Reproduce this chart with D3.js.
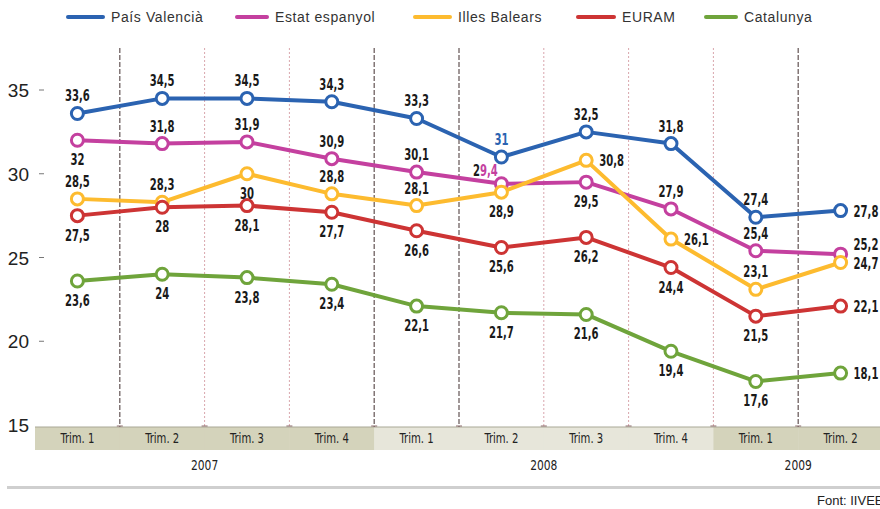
<!DOCTYPE html>
<html><head><meta charset="utf-8">
<script src="https://cdn.jsdelivr.net/npm/d3@7"></script>
<style>
html,body{margin:0;padding:0;background:#fff;}
svg{display:block;}
</style></head>
<body>
<svg id="chart" width="880" height="509"></svg>
<script>
// ---- data ----
const quarters = ["Trim. 1","Trim. 2","Trim. 3","Trim. 4","Trim. 1","Trim. 2","Trim. 3","Trim. 4","Trim. 1","Trim. 2"];
const years = ["2007","2008","2009"];
const yearOfQuarter = [0,0,0,0,1,1,1,1,2,2];
const seriesNames = ["País Valencià","Estat espanyol","Illes Balears","EURAM","Catalunya"];
const paisValencia = [33.6,34.5,34.5,34.3,33.3,31,32.5,31.8,27.4,27.8];
const estatEspanyol = [32,31.8,31.9,30.9,30.1,29.4,29.5,27.9,25.4,25.2];
const illesBalears = [28.5,28.3,30,28.8,28.1,28.9,30.8,26.1,23.1,24.7];
const euram = [27.5,28,28.1,27.7,26.6,25.6,26.2,24.4,21.5,22.1];
const catalunya = [23.6,24,23.8,23.4,22.1,21.7,21.6,19.4,17.6,18.1];
const yTicks = [15,20,25,30,35];
const source = "Font: IIVEE";

// label placement (a = above, b = below, r = right, ar = above-right, al = above-left)
const placePV = ["a","a","a","a","a","a","a","a","a","r"];
const placeEE = ["b","a","a","a","a","al","b","a","a","ar"];
const placeIB = ["a","a","b","a","a","b","r","r","a","r"];
const placeEU = ["b","b","b","b","b","b","b","b","b","r"];
const placeCA = ["b","b","b","b","b","b","b","b","b","r"];

const colors = ["#2b63b1","#c4409f","#fdbb2f","#cd3434","#6fa43b"];
const series = [paisValencia, estatEspanyol, illesBalears, euram, catalunya];
const places = [placePV, placeEE, placeIB, placeEU, placeCA];

const svg = d3.select("#chart");
const x = d3.scaleBand().domain(d3.range(quarters.length)).range([35, 883]).padding(0);
const y = d3.scaleLinear().domain([15,35]).range([425,90]);
const cx = i => x(i) + x.bandwidth()/2;
const condensed = "'Liberation Sans Narrow','DejaVu Sans Condensed',sans-serif";
const squeeze = (sel, tx, s) => sel.attr("transform", `translate(${tx},0) scale(${s},1) translate(${-tx},0)`);

// bands
const bandTop = 427, bandH = 23;
const bandColors = ["#d4d3bb","#e7e6da","#d4d3bb"];
svg.append("g").selectAll("rect").data(quarters).join("rect")
  .attr("x", (d,i)=>x(i)).attr("y", bandTop).attr("width", x.bandwidth()+0.5).attr("height", bandH)
  .attr("fill", (d,i)=>bandColors[yearOfQuarter[i]]);
svg.append("line").attr("x1",35).attr("x2",880).attr("y1",bandTop).attr("y2",bandTop)
  .attr("stroke","#a9a896").attr("stroke-width",1);
quarters.forEach((q,i)=>{
  const t = svg.append("text").attr("x",cx(i)).attr("y", bandTop+16).attr("text-anchor","middle")
    .attr("font-family",condensed).attr("font-size",14).attr("fill","#222").text(q);
  squeeze(t, cx(i), 0.8);
});

// year labels: centred on the middle of each year's quarters
years.forEach((yr,k)=>{
  const idx = d3.range(quarters.length).filter(i=>yearOfQuarter[i]===k);
  let xc;
  if (idx.length===2) xc = x(idx[1]);
  else xc = (x(idx[0]) + x(idx[idx.length-1]) + x.bandwidth())/2;
  const t = svg.append("text").attr("x", xc).attr("y", 470).attr("text-anchor","middle")
    .attr("font-family",condensed).attr("font-size",14).attr("fill","#222").text(yr);
  squeeze(t, xc, 0.85);
});

// vertical separators
const darkSep = [1,4,5,9];
svg.append("g").selectAll("line").data(d3.range(1,quarters.length)).join("line")
  .attr("x1",i=>x(i)).attr("x2",i=>x(i)).attr("y1",48).attr("y2",bandTop)
  .attr("stroke",i=>darkSep.includes(i)?"#6e6060":"#d9a6ad")
  .attr("stroke-width",i=>darkSep.includes(i)?1.3:1)
  .attr("stroke-dasharray",i=>darkSep.includes(i)?"5,2":"2,2");
svg.append("g").selectAll("line").data(d3.range(1,quarters.length)).join("line")
  .attr("x1",i=>x(i)-3).attr("x2",i=>x(i)+3).attr("y1",bandTop-1).attr("y2",bandTop-1)
  .attr("stroke","#8a6a6a").attr("stroke-width",1);

// y axis labels
svg.append("g").selectAll("text").data(yTicks).join("text")
  .attr("x",29).attr("y",d=>y(d)+7).attr("text-anchor","end")
  .attr("font-family","'Liberation Sans',Arial,sans-serif").attr("font-size",19).attr("fill","#222")
  .text(d=>d);
svg.append("g").selectAll("line").data(yTicks.filter(d=>d>15)).join("line")
  .attr("x1",39).attr("x2",44).attr("y1",d=>y(d)).attr("y2",d=>y(d))
  .attr("stroke","#777").attr("stroke-width",1);

// lines
const line = d3.line().x((d,i)=>cx(i)).y(d=>y(d));
series.forEach((s,k)=>{
  svg.append("path").datum(s).attr("d",line).attr("fill","none")
    .attr("stroke",colors[k]).attr("stroke-width",4).attr("stroke-linejoin","round");
});
series.forEach((s,k)=>{
  svg.append("g").selectAll("circle").data(s).join("circle")
    .attr("cx",(d,i)=>cx(i)).attr("cy",d=>y(d)).attr("r",6)
    .attr("fill","#fff").attr("stroke",colors[k]).attr("stroke-width",3);
});

// value labels
const fmt = v => String(v).replace(".", ",");
series.forEach((s,k)=>{
  s.forEach((v,i)=>{
    const p = places[k][i];
    let tx = cx(i), ty = y(v), anchor = "middle";
    if (p==="a") { ty -= 12; }
    else if (p==="b") { ty += 25; }
    else if (p==="r") { tx += 13; ty += 6; anchor = "start"; }
    else if (p==="ar") { tx += 13; ty -= 4; anchor = "start"; }
    else if (p==="al") { tx -= 16; ty -= 8; }
    const t = svg.append("text").attr("x",tx).attr("y",ty).attr("text-anchor",anchor)
      .attr("font-family",condensed)
      .attr("font-weight","bold").attr("font-size",16).attr("fill", (k===0 && i===5) ? colors[0] : "#1a1a1a");
    squeeze(t, tx, 0.7);
    if (k===1 && i===5) {
      const str = fmt(v);
      t.append("tspan").text(str.slice(0,1));
      t.append("tspan").attr("fill",colors[1]).text(str.slice(1));
    } else t.text(fmt(v));
  });
});

// legend
const legendX = [68,237,415,578,706];
const legendW = [35,30,35,36,30];
const lg = svg.append("g");
seriesNames.forEach((n,k)=>{
  lg.append("line").attr("x1",legendX[k]).attr("x2",legendX[k]+legendW[k]).attr("y1",17).attr("y2",17)
    .attr("stroke",colors[k]).attr("stroke-width",4).attr("stroke-linecap","round");
  lg.append("text").attr("x",legendX[k]+legendW[k]+8).attr("y",22)
    .attr("font-family","'Liberation Sans',Arial,sans-serif").attr("font-size",14).attr("letter-spacing",0.6)
    .attr("fill","#333").text(n);
});

// bottom rule and source
svg.append("line").attr("x1",7).attr("x2",880).attr("y1",487.5).attr("y2",487.5)
  .attr("stroke","#cfcfcf").attr("stroke-width",3);
svg.append("text").attr("x",817).attr("y",505)
  .attr("font-family","'Liberation Sans',Arial,sans-serif").attr("font-size",13).attr("fill","#222").text(source);
</script>
</body></html>
